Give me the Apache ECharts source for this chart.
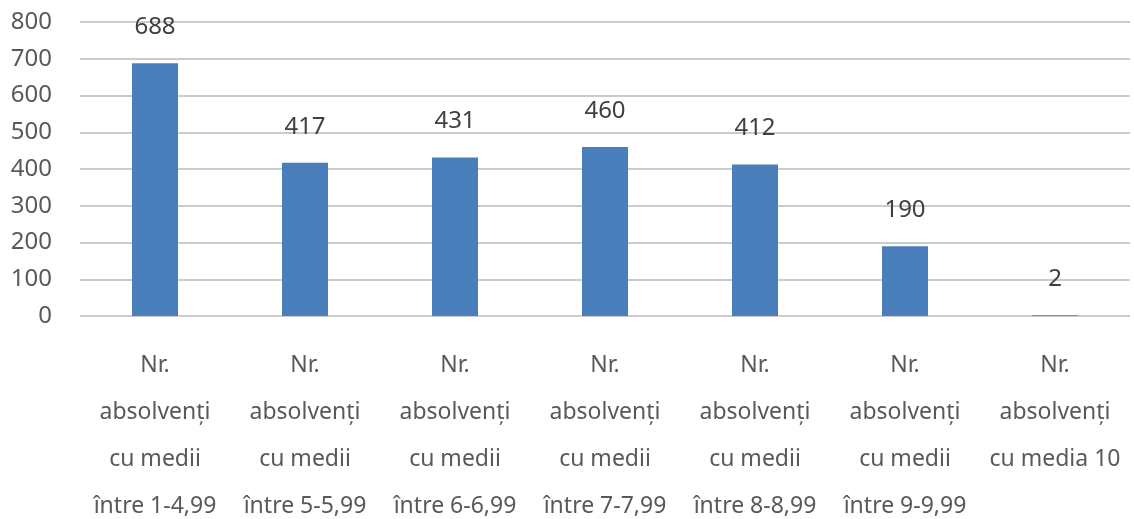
<!DOCTYPE html>
<html>
<head>
    <meta charset="UTF-8"/>
    <script src="https://cdn.jsdelivr.net/npm/echarts@6/dist/echarts.min.js"></script>
    <style>
        html, body {margin: 0; padding: 0; background: #fff;}
        #main {width: 1134px; height: 519px;}
    </style>
</head>
<body>
<div id="main"></div>
<script type="text/javascript">
    // categorii si valori
    var categories = [
        'Nr.\nabsolvenți\ncu medii\nîntre 1-4,99',
        'Nr.\nabsolvenți\ncu medii\nîntre 5-5,99',
        'Nr.\nabsolvenți\ncu medii\nîntre 6-6,99',
        'Nr.\nabsolvenți\ncu medii\nîntre 7-7,99',
        'Nr.\nabsolvenți\ncu medii\nîntre 8-8,99',
        'Nr.\nabsolvenți\ncu medii\nîntre 9-9,99',
        'Nr.\nabsolvenți\ncu media 10'
    ];
    var values = [688, 417, 431, 460, 412, 190, 2];

    var font = '"Noto Sans", sans-serif';
    var myChart = echarts.init(document.getElementById('main'));
    var option = {
        animation: false,
        grid: {left: 80, right: 4, top: 22, bottom: 203, containLabel: false, outerBoundsMode: 'none'},
        xAxis: {
            type: 'category',
            data: categories,
            axisLine: {show: false},
            axisTick: {show: false},
            axisLabel: {
                interval: 0,
                margin: 26,
                color: '#595959',
                fontFamily: font,
                fontSize: 23,
                lineHeight: 47
            }
        },
        yAxis: {
            type: 'value',
            min: 0,
            max: 800,
            interval: 100,
            axisLine: {show: false},
            axisTick: {show: false},
            splitLine: {lineStyle: {color: '#cccccc', width: 2}},
            axisLabel: {
                margin: 28,
                color: '#595959',
                fontFamily: font,
                fontSize: 24
            }
        },
        series: [{
            type: 'bar',
            data: values,
            barWidth: 46,
            itemStyle: {color: '#4a7ebb'},
            label: {
                show: true,
                position: 'top',
                distance: 24,
                color: '#404040',
                fontFamily: font,
                fontSize: 24
            }
        }]
    };
    myChart.setOption(option);
</script>
</body>
</html>
